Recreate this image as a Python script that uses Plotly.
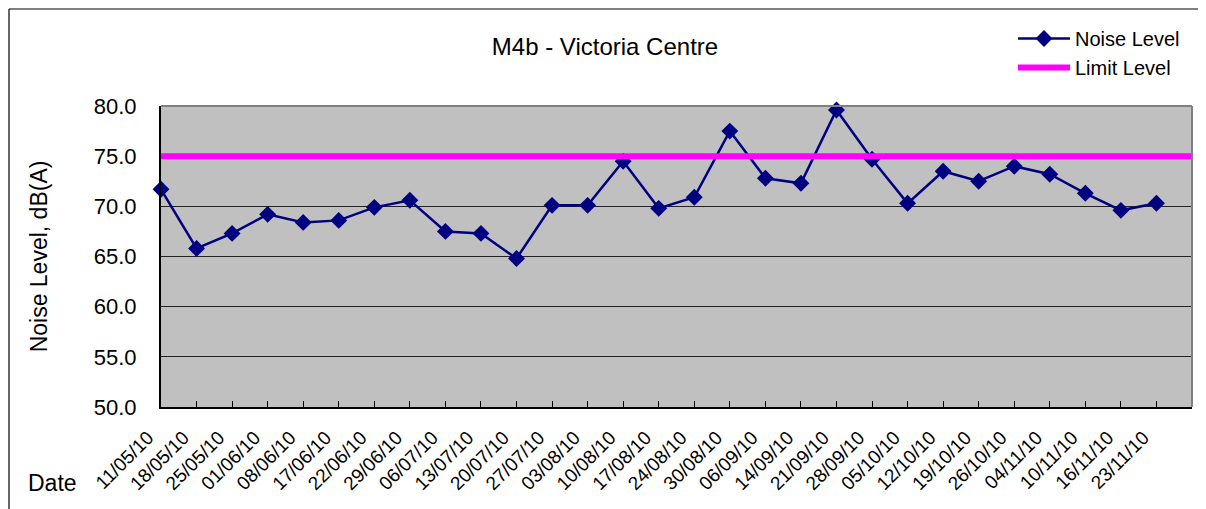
import plotly.graph_objects as go

dates = ["11/05/10", "18/05/10", "25/05/10", "01/06/10", "08/06/10", "17/06/10",
         "22/06/10", "29/06/10", "06/07/10", "13/07/10", "20/07/10", "27/07/10",
         "03/08/10", "10/08/10", "17/08/10", "24/08/10", "30/08/10", "06/09/10",
         "14/09/10", "21/09/10", "28/09/10", "05/10/10", "12/10/10", "19/10/10",
         "26/10/10", "04/11/10", "10/11/10", "16/11/10", "23/11/10"]
noise_level = [71.7, 65.8, 67.3, 69.2, 68.4, 68.6, 69.9, 70.6, 67.5, 67.3,
               64.8, 70.1, 70.1, 74.5, 69.8, 70.9, 77.5, 72.8, 72.3, 79.6,
               74.7, 70.3, 73.5, 72.5, 74.0, 73.2, 71.3, 69.6, 70.3]
# Limit level over every category slot (29 dates + one trailing empty slot)
limit_level = [75.0] * (len(dates) + 1)

title_text = "M4b - Victoria Centre"
y_title = "Noise Level, dB(A)"
x_title = "Date"

FONT = "Liberation Sans, Arial, sans-serif"

OFF = 8  # default page body margin
W, H = 1206 - OFF, 509 - OFF
L, T = 161 - OFF, 106 - OFF
R = W - (1192 - OFF)
B = H - (407 - OFF)
pw, ph = W - L - R, H - T - B

def px_x(x):
    return (x - OFF - L) / pw

def px_y(y):
    return (H - B - (y - OFF)) / ph

idx = list(range(len(dates)))
slots = list(range(len(dates) + 1))

fig = go.Figure()
fig.add_trace(go.Scatter(
    x=idx, y=noise_level, mode="lines+markers", name="Noise Level",
    line=dict(color="#000080", width=2.5),
    marker=dict(symbol="diamond", size=13, color="#000080"),
    cliponaxis=False, legendgroup="a",
))
fig.add_trace(go.Scatter(
    x=slots, y=limit_level, mode="lines", name="Limit Level",
    line=dict(color="#FF00FF", width=6),
    cliponaxis=False, legendgroup="b",
))

bx0, bx1, by0, by1 = px_x(9), px_x(1200), px_y(520), px_y(9)
border = dict(color="black", width=1.2)

fig.update_layout(
    width=W, height=H,
    margin=dict(l=L, r=R, t=T, b=B, autoexpand=False),
    paper_bgcolor="white", plot_bgcolor="#C0C0C0",
    font=dict(family=FONT, color="black"),
    title=dict(text=title_text, x=(605 - OFF) / W, xanchor="center",
               y=1 - (47 - OFF) / H, yanchor="middle",
               xref="container", yref="container",
               font=dict(size=24, family=FONT, color="black")),
    showlegend=True,
    legend=dict(x=px_x(1013), y=px_y(19), xanchor="left", yanchor="top",
                font=dict(size=20, family=FONT), bgcolor="rgba(0,0,0,0)",
                tracegroupgap=0, itemwidth=52),
    xaxis=dict(range=[0, len(dates)], tickmode="array", tickvals=slots,
               ticktext=dates + [""], tickangle=-45,
               tickfont=dict(size=19, family=FONT),
               ticks="inside", ticklen=6, tickcolor="black", tickwidth=1,
               ticklabelshift=-13, ticklabelstandoff=10,
               showline=True, linecolor="black", linewidth=2,
               showgrid=False, zeroline=False, automargin=False),
    yaxis=dict(range=[50, 80], dtick=5, tick0=50, tickformat=".1f",
               tickfont=dict(size=22, family=FONT),
               ticks="", ticklabelstandoff=18,
               showline=True, linecolor="black", linewidth=2,
               showgrid=True, gridcolor="#222222", gridwidth=1,
               zeroline=False, automargin=False,
               title=dict(text=y_title, font=dict(size=23, family=FONT),
                          standoff=40)),
    annotations=[dict(text=x_title, x=px_x(52), y=px_y(483), xref="paper",
                      yref="paper", showarrow=False, xanchor="center",
                      yanchor="middle", font=dict(size=23, family=FONT))],
    shapes=[
        # outer chart border: left, top, right
        dict(type="line", xref="paper", yref="paper", x0=bx0, x1=bx0,
             y0=by0, y1=by1, line=border),
        dict(type="line", xref="paper", yref="paper", x0=bx0, x1=bx1,
             y0=by1, y1=by1, line=border),
        dict(type="line", xref="paper", yref="paper", x0=bx1, x1=bx1,
             y0=by0, y1=by1, line=border),
        # plot area top and right border
        dict(type="line", xref="paper", yref="paper", x0=0, x1=1, y0=1, y1=1,
             line=dict(color="#808080", width=2)),
        dict(type="line", xref="paper", yref="paper", x0=1, x1=1, y0=0, y1=1,
             line=dict(color="#808080", width=2)),
    ],
)

fig.write_html("out.html")
